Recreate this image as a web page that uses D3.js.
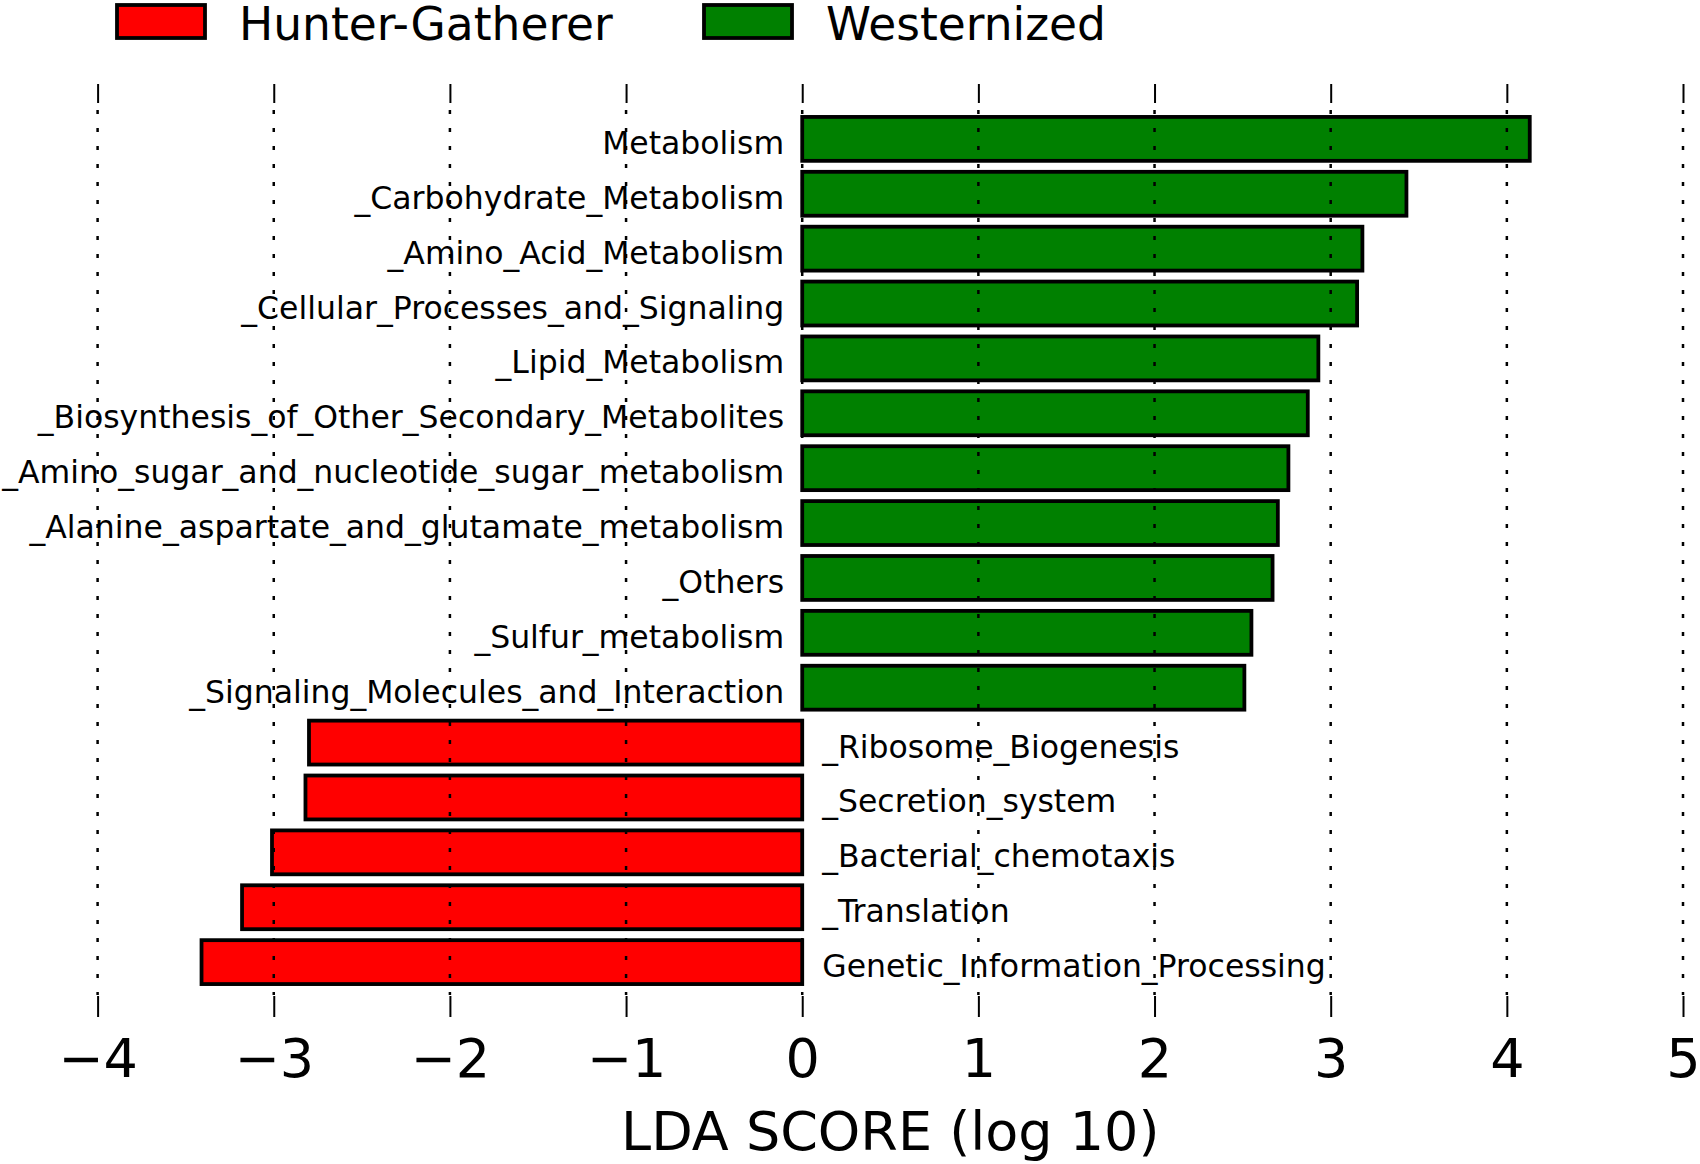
<!DOCTYPE html>
<html>
<head>
<meta charset="utf-8">
<script src="https://cdn.jsdelivr.net/npm/d3@7"></script>
<style>
  html, body { margin: 0; padding: 0; background: #fff; }
  svg { display: block; font-family: "DejaVu Sans", sans-serif; }
</style>
</head>
<body>
<svg id="chart" width="1700" height="1164"></svg>
<script>
const categories = [
  "Metabolism",
  "_Carbohydrate_Metabolism",
  "_Amino_Acid_Metabolism",
  "_Cellular_Processes_and_Signaling",
  "_Lipid_Metabolism",
  "_Biosynthesis_of_Other_Secondary_Metabolites",
  "_Amino_sugar_and_nucleotide_sugar_metabolism",
  "_Alanine_aspartate_and_glutamate_metabolism",
  "_Others",
  "_Sulfur_metabolism",
  "_Signaling_Molecules_and_Interaction",
  "_Ribosome_Biogenesis",
  "_Secretion_system",
  "_Bacterial_chemotaxis",
  "_Translation",
  "Genetic_Information_Processing"
];
const ldaScores = [4.13, 3.43, 3.18, 3.15, 2.93, 2.87, 2.76, 2.70, 2.67, 2.55, 2.51,
                   -2.80, -2.82, -3.01, -3.18, -3.41];
const groups = ["Westernized","Westernized","Westernized","Westernized","Westernized",
                "Westernized","Westernized","Westernized","Westernized","Westernized","Westernized",
                "Hunter-Gatherer","Hunter-Gatherer","Hunter-Gatherer","Hunter-Gatherer","Hunter-Gatherer"];
const legendNames = ["Hunter-Gatherer", "Westernized"];
const legendColors = ["#ff0000", "#008000"];
const xTicks = [-4, -3, -2, -1, 0, 1, 2, 3, 4, 5];
const xLabel = "LDA SCORE (log 10)";

const data = categories.map((c, i) => ({ name: c, value: ldaScores[i], group: groups[i] }));
const color = d3.scaleOrdinal().domain(legendNames).range(legendColors);

const svg = d3.select("#chart");
const plotTop = 84, plotBottom = 1017;
const x = d3.scaleLinear().domain([-4, 5]).range([97.6, 1683]);
const y = d3.scaleBand().domain(categories).range([plotTop, plotBottom])
  .paddingInner(0.2).paddingOuter(0.6);

// bars
svg.append("g").selectAll("rect").data(data).join("rect")
  .attr("x", d => x(Math.min(0, d.value)))
  .attr("y", d => y(d.name))
  .attr("width", d => Math.abs(x(d.value) - x(0)))
  .attr("height", y.bandwidth())
  .attr("fill", d => color(d.group))
  .attr("stroke", "#000")
  .attr("stroke-width", 3.8);

// labels
svg.append("g").selectAll("text").data(data).join("text")
  .attr("x", d => d.value >= 0 ? x(0) - 18 : x(0) + 20)
  .attr("y", d => y(d.name) + y.bandwidth() / 2 + 15)
  .attr("text-anchor", d => d.value >= 0 ? "end" : "start")
  .attr("font-size", 31.5)
  .attr("fill", "#000")
  .text(d => d.name);

// dotted grid lines (on top)
svg.append("g").selectAll("line").data(xTicks).join("line")
  .attr("x1", d => x(d)).attr("x2", d => x(d))
  .attr("y1", plotTop + 26).attr("y2", plotBottom - 22)
  .attr("stroke", "#000")
  .attr("stroke-width", 2.5)
  .attr("stroke-dasharray", "4,14");

// top ticks
const topAxis = svg.append("g").attr("transform", `translate(0,${plotTop})`)
  .call(d3.axisTop(x).tickValues(xTicks).tickSize(-19).tickFormat(""));
topAxis.select(".domain").remove();
topAxis.selectAll(".tick line").attr("stroke-width", 2);

// bottom axis
const botAxis = svg.append("g").attr("transform", `translate(0,${plotBottom})`)
  .call(d3.axisBottom(x).tickValues(xTicks).tickSize(-21).tickFormat(d3.format("d")));
botAxis.select(".domain").remove();
botAxis.selectAll(".tick line").attr("stroke-width", 2);
botAxis.selectAll(".tick text")
  .attr("y", 60).attr("dy", 0)
  .attr("font-size", 54)
  .attr("font-family", "DejaVu Sans, sans-serif")
  .attr("fill", "#000");

// x label
svg.append("text")
  .attr("x", x(0.5)).attr("y", 1150)
  .attr("text-anchor", "middle")
  .attr("font-size", 54)
  .text(xLabel);

// legend
const legendX = [117, 704];
const leg = svg.append("g").selectAll("g").data(legendNames).join("g")
  .attr("transform", (d, i) => `translate(${legendX[i]},0)`);
leg.append("rect")
  .attr("x", 0).attr("y", 5).attr("width", 88).attr("height", 33)
  .attr("fill", d => color(d))
  .attr("stroke", "#000").attr("stroke-width", 3.8);
leg.append("text")
  .attr("x", 122).attr("y", 40)
  .attr("font-size", 45.5)
  .text(d => d);
</script>
</body>
</html>
